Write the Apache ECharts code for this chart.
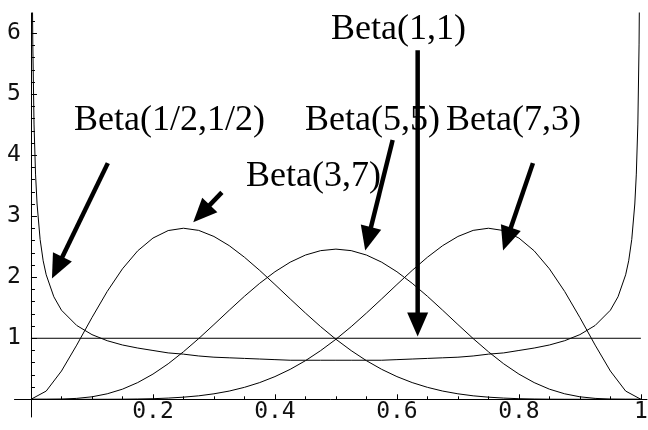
<!DOCTYPE html>
<html><head><meta charset="utf-8">
<script src="https://cdn.jsdelivr.net/npm/echarts@6/dist/echarts.min.js"></script>
<style>html,body{margin:0;padding:0;background:#fff}#c{width:648px;height:430px}</style>
</head><body><div id="c"></div>
<script>
// ---- data ----
const xGrid = [0,0.025,0.05,0.075,0.1,0.125,0.15,0.175,0.2,0.225,0.25,0.275,0.3,0.325,0.35,0.375,0.4,0.425,0.45,0.475,0.5,0.525,0.55,0.575,0.6,0.625,0.65,0.675,0.7,0.725,0.75,0.775,0.8,0.825,0.85,0.875,0.9,0.925,0.95,0.975,1];
const beta37 = [0,0.135,0.463,0.888,1.339,1.767,2.138,2.433,2.642,2.765,2.803,2.768,2.668,2.518,2.328,2.112,1.881,1.645,1.413,1.190,0.984,0.798,0.633,0.491,0.372,0.274,0.196,0.135,0.090,0.057,0.035,0.020,0.010,0.005,0.002,0.001,0.0002,0,0,0,0];
const beta73 = [0,0,0,0,0.0002,0.001,0.002,0.005,0.010,0.020,0.035,0.057,0.090,0.135,0.196,0.274,0.372,0.491,0.633,0.798,0.984,1.190,1.413,1.645,1.881,2.112,2.328,2.518,2.668,2.768,2.803,2.765,2.642,2.433,2.138,1.767,1.339,0.888,0.463,0.135,0];
const beta55 = [0,0.0002,0.003,0.015,0.041,0.090,0.166,0.274,0.413,0.582,0.779,0.995,1.225,1.459,1.688,1.901,2.090,2.247,2.364,2.436,2.461,2.436,2.364,2.247,2.090,1.901,1.688,1.459,1.225,0.995,0.779,0.582,0.413,0.274,0.166,0.090,0.041,0.015,0.003,0.0002,0];
const arcX = [0.001,0.002,0.003,0.005,0.0075,0.01,0.015,0.02,0.025,0.0375,0.05,0.075,0.1,0.125,0.15,0.175,0.2,0.225,0.25,0.275,0.3,0.325,0.35,0.375,0.4,0.425,0.45,0.475,0.5,0.525,0.55,0.575,0.6,0.625,0.65,0.675,0.7,0.725,0.75,0.775,0.8,0.825,0.85,0.875,0.9,0.925,0.95,0.9625,0.975,0.98,0.985,0.99,0.9925,0.995,0.997,0.998,0.999];
const arcY = [10.07,7.12,5.82,4.51,3.69,3.20,2.62,2.27,2.04,1.68,1.46,1.21,1.06,0.96,0.89,0.84,0.80,0.76,0.74,0.71,0.69,0.68,0.67,0.66,0.65,0.64,0.64,0.64,0.64,0.64,0.64,0.64,0.65,0.66,0.67,0.68,0.69,0.71,0.74,0.76,0.80,0.84,0.89,0.96,1.06,1.21,1.46,1.68,2.04,2.27,2.62,3.20,3.69,4.51,5.82,7.12,10.07];
const uniformX = [0,1];
const uniformY = [1,1];
const xTickLabels = [0.2,0.4,0.6,0.8,1];
const yTickLabels = [1,2,3,4,5,6];
const xMinorTicks = [0.05,0.1,0.15,0.25,0.3,0.35,0.45,0.5,0.55,0.65,0.7,0.75,0.85,0.9,0.95];
const yMinorTicks = [0.2,0.4,0.6,0.8,1.2,1.4,1.6,1.8,2.2,2.4,2.6,2.8,3.2,3.4,3.6,3.8,4.2,4.4,4.6,4.8,5.2,5.4,5.6,5.8,6.2];
const curveNames = ['Beta(1/2,1/2)','Beta(3,7)','Beta(5,5)','Beta(1,1)','Beta(7,3)'];

const zip = (xs, ys) => xs.map((x, i) => [x, ys[i]]);

const X_MIN = -0.027, X_MAX = 1.01, Y_MIN = -0.29, Y_MAX = 6.33;
const ink = '#000';
const tickFont = {color: '#111', fontFamily: 'DejaVu Sans Mono', fontSize: 23};

const chart = echarts.init(document.getElementById('c'), null, {renderer: 'canvas'});
const lineSeries = (name, data) => ({
  name, type: 'line', data, symbol: 'none', showSymbol: false, smooth: false, clip: true,
  silent: true, lineStyle: {color: ink, width: 1}, xAxisIndex: 0, yAxisIndex: 0, z: 2
});

function buildOption(xOff, yOff) {
  return {
    animation: false,
    backgroundColor: '#fff',
    grid: {left: 14.5, right: 1, top: 13, bottom: 13, containLabel: false, outerBoundsMode: 'none'},
    xAxis: [
      {type: 'value', min: X_MIN, max: X_MAX, position: 'bottom', offset: xOff,
       axisLine: {onZero: false, lineStyle: {color: ink, width: 1}},
       axisTick: {inside: true, length: 5, customValues: xTickLabels, lineStyle: {color: ink}},
       axisLabel: {customValues: xTickLabels, margin: 1, ...tickFont},
       splitLine: {show: false}},
      {type: 'value', min: X_MIN, max: X_MAX, position: 'bottom', offset: xOff,
       axisLine: {show: false, onZero: false},
       axisTick: {inside: true, length: 3, customValues: xMinorTicks, lineStyle: {color: ink}},
       axisLabel: {show: false}, splitLine: {show: false}}
    ],
    yAxis: [
      {type: 'value', min: Y_MIN, max: Y_MAX, position: 'left', offset: yOff,
       axisLine: {onZero: false, lineStyle: {color: ink, width: 1}},
       axisTick: {inside: true, length: 6, customValues: yTickLabels, lineStyle: {color: ink}},
       axisLabel: {customValues: yTickLabels, margin: 10, ...tickFont},
       splitLine: {show: false}},
      {type: 'value', min: Y_MIN, max: Y_MAX, position: 'left', offset: yOff,
       axisLine: {show: false, onZero: false},
       axisTick: {inside: true, length: 4, customValues: yMinorTicks, lineStyle: {color: ink}},
       axisLabel: {show: false}, splitLine: {show: false}}
    ],
    series: [
      lineSeries(curveNames[0], zip(arcX, arcY)),
      lineSeries(curveNames[1], zip(xGrid, beta37)),
      lineSeries(curveNames[2], zip(xGrid, beta55)),
      lineSeries(curveNames[3], zip(uniformX, uniformY)),
      lineSeries(curveNames[4], zip(xGrid, beta73))
    ]
  };
}

chart.setOption(buildOption(0, 0));
// move the axes so they cross at the origin (offsets from the library's own scales)
const origin = chart.convertToPixel({gridIndex: 0}, [0, 0]);
const corner = chart.convertToPixel({gridIndex: 0}, [X_MIN, Y_MIN]);
chart.setOption(buildOption(origin[1] - corner[1], corner[0] - origin[0]), {notMerge: true});

// ---- annotations: labels and arrows (arrow ends in data coordinates) ----
const annotations = [
  {text: curveNames[0], lx: 74,  ly: 121, tail: [0.126, 3.87], tip: [0.0344, 1.98]},
  {text: curveNames[1], lx: 246, ly: 177, tail: [0.313, 3.39], tip: [0.266, 2.90]},
  {text: curveNames[2], lx: 305, ly: 121, tail: [0.593, 4.25], tip: [0.548, 2.44]},
  {text: curveNames[3], lx: 331, ly: 30,  tail: [0.634, 5.72], tip: [0.634, 1.03]},
  {text: curveNames[4], lx: 446, ly: 121, tail: [0.823, 3.87], tip: [0.774, 2.44]}
];
const graphics = [];
annotations.forEach(a => {
  graphics.push({type: 'text', x: a.lx, y: a.ly, z: 10,
    style: {text: a.text, fontFamily: 'Liberation Serif', fontSize: 36, fill: ink, align: 'left', verticalAlign: 'middle'}});
  const p = chart.convertToPixel({gridIndex: 0}, a.tail);
  const q = chart.convertToPixel({gridIndex: 0}, a.tip);
  const dx = q[0] - p[0], dy = q[1] - p[1], L = Math.hypot(dx, dy);
  const ux = dx / L, uy = dy / L, hl = 24, hw = 10.5;
  const bx = q[0] - ux * hl, by = q[1] - uy * hl;
  graphics.push({type: 'line', z: 10, shape: {x1: p[0], y1: p[1], x2: bx + ux * 3, y2: by + uy * 3},
    style: {stroke: ink, lineWidth: 4.5}});
  graphics.push({type: 'polygon', z: 10, shape: {points: [[q[0], q[1]], [bx - uy * hw, by + ux * hw], [bx + uy * hw, by - ux * hw]]},
    style: {fill: ink}});
});
chart.setOption({graphic: graphics});
</script>
</body></html>
